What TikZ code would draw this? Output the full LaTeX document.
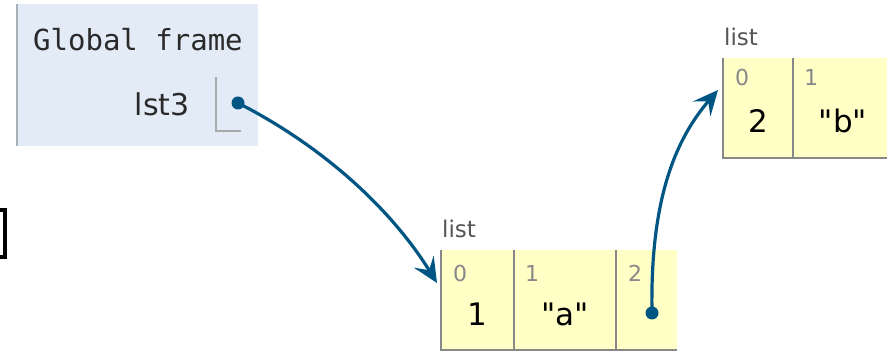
\documentclass[tikz,border=0pt]{standalone}
\usepackage{fontspec}
\newfontfamily\vfont{DejaVu Sans}
\newfontfamily\mfont{DejaVu Sans Mono}
\usetikzlibrary{arrows.meta, positioning}
\definecolor{ptrblue}{HTML}{005583}
\definecolor{framebg}{HTML}{E2EBF6}
\definecolor{framebar}{HTML}{A6B3B6}
\definecolor{slotline}{HTML}{AAAAAA}
\definecolor{cellbg}{HTML}{FFFFC6}
\definecolor{cellline}{HTML}{888888}
\definecolor{idxgray}{HTML}{888888}
\definecolor{lblgray}{HTML}{555555}
\definecolor{txtdark}{HTML}{2A2A2A}

\begin{document}
\begin{tikzpicture}[
    x=1pt, y=-1pt,
    frame/.style={rectangle, fill=framebg, inner sep=0pt, outer sep=0pt, anchor=north west},
    slot/.style={rectangle, inner sep=0pt, outer sep=0pt, anchor=north west},
    cell/.style={rectangle, fill=cellbg, inner sep=0pt, outer sep=0pt, minimum height=100pt},
    border/.style={draw=cellline, line width=2pt},
    hdr/.style={font=\mfont\fontsize{29}{29}\selectfont, text=txtdark, inner sep=0pt, anchor=base west},
    var/.style={font=\vfont\fontsize{30}{30}\selectfont, text=txtdark, inner sep=0pt, anchor=base east},
    idx/.style={font=\vfont\fontsize{22}{22}\selectfont, text=idxgray, inner sep=0pt, anchor=base west},
    val/.style={font=\vfont\fontsize{31}{31}\selectfont, inner sep=0pt, anchor=base},
    typelbl/.style={font=\vfont\fontsize{23}{23}\selectfont, text=lblgray, inner sep=0pt, anchor=base west},
    dot/.style={circle, fill=ptrblue, minimum size=13pt, inner sep=0pt},
    ptr/.style={-{Stealth[length=25pt, width=23pt, inset=10pt]}, draw=ptrblue, line width=3.2pt}
]
    \useasboundingbox (0,0) rectangle (887,352);

    % Leftover bracket
    \draw[line width=4pt] (0,210) -- (4.5,210) -- (4.5,257) -- (0,257);

    % Global frame
    \node[frame, minimum width=241pt, minimum height=142pt] (gframe) at (17,4) {};
    \draw[draw=framebar, line width=2pt] (gframe.north west) -- (gframe.south west);
    \node[hdr] (ghdr) at ([xshift=16pt, yshift=-47pt]gframe.north west) {Global frame};
    \node[slot, minimum width=25pt, minimum height=54pt] (gslot) at (216,77) {};
    \draw[draw=slotline, line width=2pt] (gslot.north west) -- (gslot.south west) -- (gslot.south east);
    \node[var] (lst3) at ([xshift=-26pt, yshift=-39pt]gslot.north west) {lst3};
    \node[dot] (ptrA) at ([xshift=22pt, yshift=-26pt]gslot.north west) {};

    % First list
    \node[cell, minimum width=73pt, anchor=north west] (l1c0) at (441,250) {};
    \node[cell, minimum width=102pt, right=0pt of l1c0] (l1c1) {};
    \node[cell, minimum width=61pt, right=0pt of l1c1] (l1c2) {};
    \draw[border] (l1c0.north west) -- (l1c0.south west) -- (l1c2.south east);
    \draw[border] (l1c1.north west) -- (l1c1.south west);
    \draw[border] (l1c2.north west) -- (l1c2.south west);
    \node[typelbl] (l1lbl) at ([xshift=1pt, yshift=12pt]l1c0.north west) {list};
    \node[idx] (l1i0) at ([xshift=12pt, yshift=-32pt]l1c0.north west) {0};
    \node[idx] (l1i1) at ([xshift=11pt, yshift=-32pt]l1c1.north west) {1};
    \node[idx] (l1i2) at ([xshift=12pt, yshift=-32pt]l1c2.north west) {2};
    \node[val] (l1v0) at ([yshift=-76pt]l1c0.north) {1};
    \node[val] (l1v1) at ([yshift=-76pt]l1c1.north) {"a"};
    \node[dot] (ptrB) at ([xshift=36pt, yshift=-63pt]l1c2.north west) {};

    % Second list
    \node[cell, minimum width=70pt, anchor=north west] (l2c0) at (723,58) {};
    \node[cell, minimum width=100pt, right=0pt of l2c0] (l2c1) {};
    \draw[border] (l2c0.north west) -- (l2c0.south west) -- (l2c1.south east);
    \draw[border] (l2c1.north west) -- (l2c1.south west);
    \node[typelbl] (l2lbl) at ([xshift=1pt, yshift=12pt]l2c0.north west) {list};
    \node[idx] (l2i0) at ([xshift=12pt, yshift=-28pt]l2c0.north west) {0};
    \node[idx] (l2i1) at ([xshift=11pt, yshift=-28pt]l2c1.north west) {1};
    \node[val] (l2v0) at ([yshift=-75pt]l2c0.north) {2};
    \node[val] (l2v1) at ([yshift=-75pt]l2c1.north) {"b"};

    % Arrow ends
    \coordinate (l1tip) at ([xshift=-4pt, yshift=-33pt]l1c0.north west);
    \coordinate (l2tip) at ([xshift=-5pt, yshift=-32pt]l2c0.north west);

    % Arrows
    \draw[ptr] (ptrA.center) .. controls +(92,47) and +(-42,-68) .. (l1tip);
    \draw[ptr] (ptrB.center) .. controls +(-2,-113) and +(-43,50) .. (l2tip);

\end{tikzpicture}
\end{document}
